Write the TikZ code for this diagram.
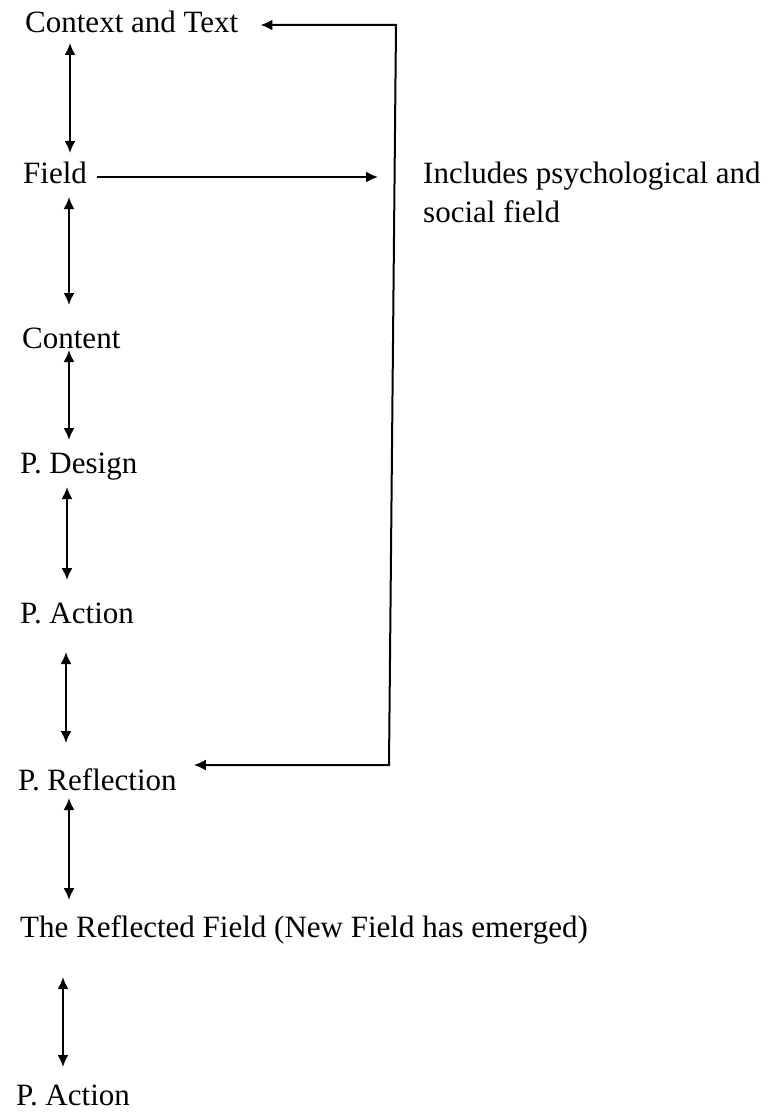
\documentclass[tikz,border=0pt]{standalone}
\usepackage{fontspec}
\setmainfont{Liberation Serif}
\usetikzlibrary{arrows.meta}
\begin{document}
\begin{tikzpicture}[x=1pt,y=-1pt,
  lbl/.style={anchor=base west,inner sep=0pt,font=\fontsize{31}{38}\selectfont},
  arr/.style={-{Latex[length=12pt,width=11pt]},line width=2pt},
  dbl/.style={{Latex[length=12pt,width=11pt]}-{Latex[length=12pt,width=11pt]},line width=2pt}]
\useasboundingbox (0,0) rectangle (771,1113);
\node[lbl] (ctx) at (25,33) {Context and Text};
\node[lbl] (field) at (23,183) {Field};
\node[lbl] (content) at (22,348) {Content};
\node[lbl] (design) at (20,473) {P. Design};
\node[lbl] (action) at (20,623) {P. Action};
\node[lbl] (refl) at (18,790) {P. Reflection};
\node[lbl] (reflfield) at (20,937) {The Reflected Field (New Field has emerged)};
\node[lbl] (action2) at (16,1105) {P. Action};
\node[lbl] (note1) at (423,183) {Includes psychological and};
\node[lbl] (note2) at (423,222) {social field};
% vertical double arrows
\draw[dbl] ([shift={(45,10)}]ctx.base west) -- ([shift={(47,-30)}]field.base west);
\draw[dbl] ([shift={(46,14)}]field.base west) -- ([shift={(47,-43)}]content.base west);
\draw[dbl] ([shift={(47,2)}]content.base west) -- ([shift={(49,-33)}]design.base west);
\draw[dbl] ([shift={(47,14)}]design.base west) -- ([shift={(47,-43)}]action.base west);
\draw[dbl] ([shift={(46,29)}]action.base west) -- ([shift={(48,-47)}]refl.base west);
\draw[dbl] ([shift={(51,8)}]refl.base west) -- ([shift={(49,-37)}]reflfield.base west);
\draw[dbl] ([shift={(43,40)}]reflfield.base west) -- ([shift={(47,-38)}]action2.base west);
% field to note
\draw[arr] ([shift={(10,-6)}]field.base east) -- ([shift={(-45,-6)}]note1.base west);
% feedback loop
\coordinate (ltop) at (396,25);
\coordinate (lbot) at (389,765);
\draw[dbl] ([shift={(22,-8)}]ctx.base east) -- (ltop) -- (lbot) -- ([shift={(17,-25)}]refl.base east);
\end{tikzpicture}
\end{document}
